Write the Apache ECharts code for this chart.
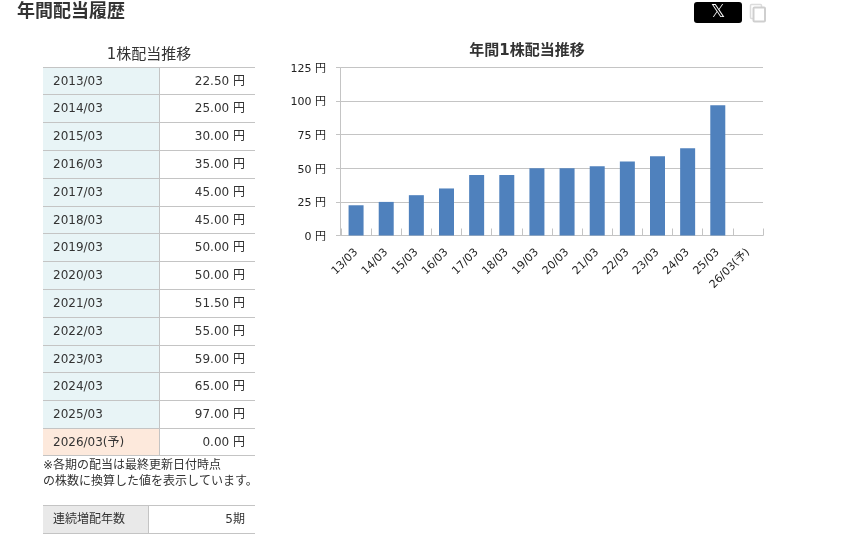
<!DOCTYPE html>
<html><head><meta charset="utf-8">
<style>html,body{margin:0;padding:0;background:#fff}#c{width:856px;height:540px}</style>
<script src="https://cdn.jsdelivr.net/npm/echarts@6/dist/echarts.min.js"></script>
</head><body><div id="c"></div>
<script>
const periods = ['2013/03','2014/03','2015/03','2016/03','2017/03','2018/03','2019/03','2020/03','2021/03','2022/03','2023/03','2024/03','2025/03','2026/03(予)'];
const dividends = [22.5,25,30,35,45,45,50,50,51.5,55,59,65,97,0];
const dividendLabels = ['22.50 円','25.00 円','30.00 円','35.00 円','45.00 円','45.00 円','50.00 円','50.00 円','51.50 円','55.00 円','59.00 円','65.00 円','97.00 円','0.00 円'];
const axisCategories = ['13/03','14/03','15/03','16/03','17/03','18/03','19/03','20/03','21/03','22/03','23/03','24/03','25/03','26/03(予)'];
const noteLines = ['※各期の配当は最終更新日付時点','の株数に換算した値を表示しています。'];
const streakLabel = '連続増配年数';
const streakValue = '5期';

const FONT = '"DejaVu Sans","Noto Sans CJK JP",sans-serif';
const LINE = '#c4c4c4', TXT = '#333';
const g = [];
const rect = (x,y,w,h,fill,z=1)=>g.push({type:'rect',silent:true,z,shape:{x,y,width:w,height:h},style:{fill}});
const text = (x,y,t,o={})=>g.push({type:'text',silent:true,z:5,x,y,style:Object.assign({text:t,fill:TXT,font:'12px '+FONT,textAlign:'left',textVerticalAlign:'middle'},o)});

text(17,12,'年間配当履歴',{font:'bold 18px '+FONT});
text(149,55,'1株配当推移',{font:'15px '+FONT,textAlign:'center'});

const top0=66.6, rowH=27.8;
periods.forEach((p,i)=>{
  const y=Math.round(top0+i*rowH), yn=Math.round(top0+(i+1)*rowH);
  rect(43,y,116,yn-y,i===periods.length-1?'#fde9dc':'#e8f4f6');
  rect(43,y,212,1,LINE,2);
  rect(159,y,1,yn-y,LINE,2);
  text(53,y+14.5,p);
  text(245,y+14.5,dividendLabels[i],{textAlign:'right'});
});
rect(43,Math.round(top0+periods.length*rowH)-1,212,1,LINE,2);
noteLines.forEach((t,i)=>text(43,465.5+i*16,t));
rect(43,506,105,27,'#e9e9e9');
rect(43,505,212,1,LINE,2);
rect(43,533,212,1,LINE,2);
rect(148,506,1,27,LINE,2);
text(53,520,streakLabel);
text(245,520,streakValue,{textAlign:'right'});

// share buttons
g.push({type:'rect',silent:true,z:1,shape:{x:694,y:2,width:48,height:21,r:3},style:{fill:'#000'}});
text(718,12.5,'𝕏',{fill:'#fff',font:'18px "DejaVu Sans"',textAlign:'center'});
g.push({type:'rect',silent:true,z:1,shape:{x:750.5,y:4.5,width:11,height:14,r:1},style:{fill:'#fff',stroke:'#dcdcdc',lineWidth:1.5}});
g.push({type:'rect',silent:true,z:2,shape:{x:753.5,y:7.5,width:11.5,height:14,r:1},style:{fill:'#fff',stroke:'#cfcfcf',lineWidth:2}});

const chart = echarts.init(document.getElementById('c'),null,{renderer:'canvas'});
chart.setOption({
  animation:false,
  title:{text:'年間1株配当推移',left:522,top:39,textAlign:'center',textStyle:{fontFamily:FONT,fontSize:15,fontWeight:'bold',color:TXT}},
  grid:{left:341,width:422,top:67.5,height:168,containLabel:false},
  xAxis:{type:'category',data:axisCategories,
    axisLine:{lineStyle:{color:LINE,width:1}},
    axisTick:{show:true,inside:true,length:7,lineStyle:{color:LINE}},
    axisLabel:{rotate:45,interval:0,margin:15,color:'#222',fontSize:11,fontFamily:FONT}},
  yAxis:{type:'value',min:0,max:125,interval:25,offset:1,
    axisLine:{show:true,lineStyle:{color:LINE,width:1}},
    axisTick:{show:true,length:4,lineStyle:{color:LINE}},
    splitLine:{lineStyle:{color:LINE,width:1}},
    axisLabel:{formatter:'{value} 円',margin:14,verticalAlign:'top',lineHeight:3,color:'#222',fontSize:11,fontFamily:FONT}},
  series:[{type:'bar',data:dividends,barWidth:15,itemStyle:{color:'#4f81bd'}}],
  graphic:g
});
</script></body></html>
